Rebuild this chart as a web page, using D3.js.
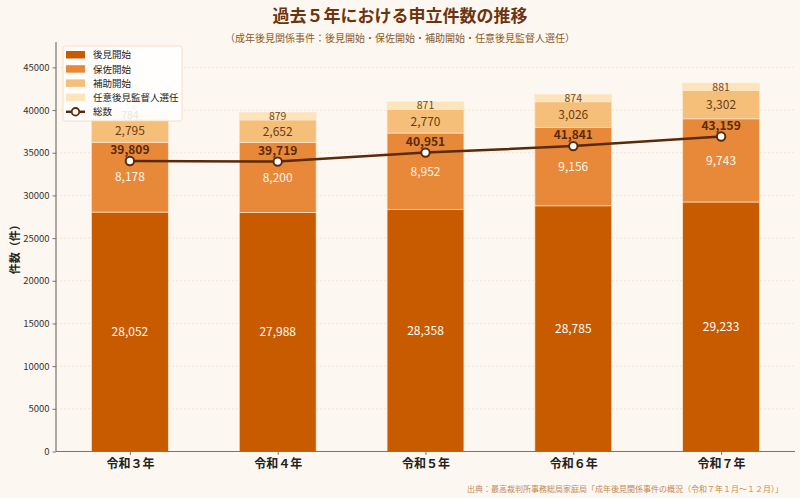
<!DOCTYPE html>
<html><head><meta charset="utf-8">
<script src="https://cdn.jsdelivr.net/npm/d3@7"></script>
<style>
body{margin:0;background:#fdf7f1;}
svg{display:block;font-family:"Noto Sans CJK JP","Noto Sans",sans-serif;}
</style></head>
<body><svg id="c" width="800" height="498"></svg>
<script>
const categories = ["令和３年","令和４年","令和５年","令和６年","令和７年"];
const seriesNames = ["後見開始","保佐開始","補助開始","任意後見監督人選任"];
const kouken = [28052, 27988, 28358, 28785, 29233];
const hosa = [8178, 8200, 8952, 9156, 9743];
const hojo = [2795, 2652, 2770, 3026, 3302];
const nini = [784, 879, 871, 874, 881];
const totals = [39809, 39719, 40951, 41841, 43159];
const yTicks = [0,5000,10000,15000,20000,25000,30000,35000,40000,45000];

const colors = ["#c85a00","#e8893a","#f5bf7a","#fde4b9"];
const labelColors = ["#ffffff","#fff6ea","#6b3a10","#7a4a1a"];
const lineColor = "#5a2a08";

const svg = d3.select("#c");
const W=800,H=498;
const m={l:56,r:5,t:42,b:46.5};
const x0=m.l, x1=W-m.r, yb=H-m.b, yt=m.t;

const x = d3.scaleLinear().domain([-0.5, 4.5]).range([x0, x1]);
const y = d3.scaleLinear().domain([0, 47975]).range([yb, yt]);
const y2 = d3.scaleLinear().domain([0, d3.max(totals)*1.3]).range([yb, yt]);
const bw = x(0.26)-x(-0.26);

// title
svg.append("text").attr("x",400).attr("y",22).attr("text-anchor","middle")
  .attr("font-size",17).attr("font-weight","bold").attr("fill","#6b3410")
  .text("過去５年における申立件数の推移");
svg.append("text").attr("x",400).attr("y",42).attr("text-anchor","middle")
  .attr("font-size",10).attr("fill","#8b5a2b")
  .text("（成年後見関係事件：後見開始・保佐開始・補助開始・任意後見監督人選任）");

// grid
svg.append("g").selectAll("line").data(yTicks.slice(1)).join("line")
  .attr("x1",x0).attr("x2",x1).attr("y1",d=>y(d)).attr("y2",d=>y(d))
  .attr("stroke","#f2dfcc").attr("stroke-width",0.8).attr("stroke-dasharray","2,2");

// stacked bars
const rows = categories.map((c,i)=>({cat:c,i, "後見開始":kouken[i],"保佐開始":hosa[i],"補助開始":hojo[i],"任意後見監督人選任":nini[i]}));
const stack = d3.stack().keys(seriesNames)(rows);
const gb = svg.append("g");
stack.forEach((s,si)=>{
  gb.append("g").selectAll("rect").data(s).join("rect")
    .attr("x",d=>x(d.data.i)-bw/2).attr("width",bw)
    .attr("y",d=>y(d[1])).attr("height",d=>y(d[0])-y(d[1]))
    .attr("fill",colors[si]).attr("stroke","#fbe6d0").attr("stroke-width",0.7);
});
stack.forEach((s,si)=>{
  gb.append("g").selectAll("text").data(s).join("text")
    .attr("x",d=>x(d.data.i)).attr("y",d=>(y(d[0])+y(d[1]))/2)
    .attr("dy","0.36em").attr("text-anchor","middle")
    .attr("font-size",si===3?10.5:12).attr("fill",labelColors[si])
    .text(d=>d3.format(",")(d[1]-d[0]));
});

// axes
const ga = svg.append("g").attr("transform",`translate(${x0},0)`)
  .call(d3.axisLeft(y).tickValues(yTicks).tickFormat(d3.format("d")).tickSize(3.5).tickPadding(3));
ga.select(".domain").attr("stroke","#7a7470").attr("stroke-width",1.2).attr("d",`M0,${yt}V${yb}`);
ga.selectAll(".tick line").attr("stroke","#7a7470");
ga.selectAll(".tick text").attr("font-size",9.5).attr("fill","#333").attr("font-family","'Noto Sans CJK JP',sans-serif");

const gx = svg.append("g").attr("transform",`translate(0,${yb})`)
  .call(d3.axisBottom(x).tickValues(d3.range(categories.length)).tickFormat(i=>categories[i]).tickSize(3.5).tickPadding(4));
gx.select(".domain").attr("stroke","#7a7470").attr("stroke-width",1.2).attr("d",`M${x0},0H${x1}`);
gx.selectAll(".tick line").attr("stroke","#7a7470");
gx.selectAll(".tick text").attr("font-size",12).attr("font-weight","bold").attr("fill","#222").attr("font-family","'Noto Sans CJK JP',sans-serif");

svg.append("text").attr("transform",`translate(19,${(yt+yb)/2}) rotate(-90)`)
  .attr("text-anchor","middle").attr("font-size",11).attr("font-weight","bold").attr("fill","#222")
  .text("件数（件）");

// total line
const line = d3.line().x((d,i)=>x(i)).y(d=>y2(d));
svg.append("path").datum(totals).attr("d",line).attr("fill","none")
  .attr("stroke",lineColor).attr("stroke-width",2.5);
svg.append("g").selectAll("circle").data(totals).join("circle")
  .attr("cx",(d,i)=>x(i)).attr("cy",d=>y2(d)).attr("r",4.2)
  .attr("fill","#fff").attr("stroke",lineColor).attr("stroke-width",2);
svg.append("g").selectAll("text").data(totals).join("text")
  .attr("x",(d,i)=>x(i)).attr("y",d=>y2(d)-7)
  .attr("text-anchor","middle").attr("font-size",12).attr("font-weight","bold").attr("fill","#5a2a08")
  .text(d=>d3.format(",")(d));

// legend
const lg = svg.append("g").attr("transform","translate(63,46)");
lg.append("rect").attr("x",0).attr("y",0).attr("width",119).attr("height",75).attr("rx",2)
  .attr("fill","#ffffff").attr("fill-opacity",0.85).attr("stroke","#f0d8b8").attr("stroke-width",0.8);
const items = seriesNames.map((n,i)=>({n,c:colors[i],t:"bar"})).concat([{n:"総数",t:"line"}]);
items.forEach((it,i)=>{
  const cy = 9 + i*14.2;
  if(it.t==="bar"){
    lg.append("rect").attr("x",3).attr("y",cy-4).attr("width",19).attr("height",7.5).attr("fill",it.c);
  } else {
    lg.append("line").attr("x1",3).attr("x2",22).attr("y1",cy).attr("y2",cy).attr("stroke",lineColor).attr("stroke-width",2.5);
    lg.append("circle").attr("cx",12.5).attr("cy",cy).attr("r",3.8).attr("fill","#fff").attr("stroke",lineColor).attr("stroke-width",1.8);
  }
  lg.append("text").attr("x",30).attr("y",cy).attr("dy","0.36em").attr("font-size",9.5).attr("fill","#222").text(it.n);
});

// source
svg.append("text").attr("x",783).attr("y",492).attr("text-anchor","end")
  .attr("font-size",8).attr("fill","#c48a50")
  .text("出典：最高裁判所事務総局家庭局「成年後見関係事件の概況（令和７年１月～１２月）」");
</script></body></html>
